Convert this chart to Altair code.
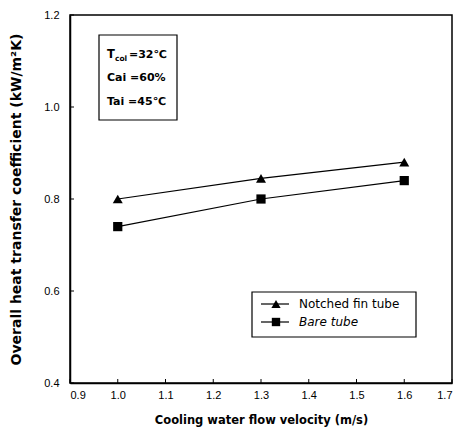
import altair as alt
import pandas as pd

velocity = [1.0, 1.3, 1.6]
notched = [0.80, 0.845, 0.88]
bare = [0.74, 0.80, 0.84]
series_names = ["Notched fin tube", "Bare tube"]
x_ticks = [0.9, 1.0, 1.1, 1.2, 1.3, 1.4, 1.5, 1.6, 1.7]
y_ticks = [0.4, 0.6, 0.8, 1.0, 1.2]

W, H = 382, 368
FONT = "Liberation Sans"
WIDE = "DejaVu Sans"

df = pd.DataFrame({
    "v": velocity * 2,
    "h": notched + bare,
    "series": [series_names[0]] * 3 + [series_names[1]] * 3,
})

xs = alt.Scale(domain=[0.9, 1.7], nice=False, zero=False)
ys = alt.Scale(domain=[0.4, 1.2], nice=False, zero=False)

base = alt.Chart(df)

lines = base.mark_line(color="black", strokeWidth=1.2).encode(
    x=alt.X("v:Q", scale=xs,
            axis=alt.Axis(title="Cooling water flow velocity (m/s)", values=x_ticks,
                          format=".1f", tickSize=0, labelPadding=6, grid=False,
                          titlePadding=14, titleFont=WIDE, titleFontSize=11.5)),
    y=alt.Y("h:Q", scale=ys,
            axis=alt.Axis(title="Overall heat transfer coefficient (kW/m²K)", values=y_ticks,
                          format=".1f", tickSize=0, labelPadding=11, grid=False,
                          titlePadding=20, titleFont=WIDE, titleFontSize=14)),
    detail="series:N",
)

points = base.mark_point(filled=True, color="black", opacity=1).encode(
    x=alt.X("v:Q", scale=xs),
    y=alt.Y("h:Q", scale=ys),
    shape=alt.Shape("series:N", scale=alt.Scale(domain=series_names,
                                                range=["triangle-up", "square"]),
                    legend=None),
    size=alt.Size("series:N", scale=alt.Scale(domain=series_names, range=[100, 85]),
                  legend=None),
)

xt = alt.Chart(pd.DataFrame({"t": x_ticks})).mark_rule(color="black", strokeWidth=1).encode(
    x=alt.X("t:Q", scale=xs), y=alt.value(H), y2=alt.value(H - 4))
yt = alt.Chart(pd.DataFrame({"t": y_ticks})).mark_rule(color="black", strokeWidth=1).encode(
    y=alt.Y("t:Q", scale=ys), x=alt.value(0), x2=alt.value(4))

# annotation box
abox = alt.Chart(pd.DataFrame({"a": [0]})).mark_rect(
    fill="white", stroke="black", strokeWidth=1.2).encode(
    x=alt.value(29), x2=alt.value(107), y=alt.value(20), y2=alt.value(105))


def txt(s, x, y, size=10, weight="bold", style="normal", font=WIDE):
    return alt.Chart(pd.DataFrame({"s": [s]})).mark_text(
        font=font, fontSize=size, fontWeight=weight, fontStyle=style, align="left",
        baseline="middle", color="black").encode(
        text="s:N", x=alt.value(x), y=alt.value(y))


ann = [
    txt("T", 37, 40, 11.5),
    txt("col", 45, 44, 7.5),
    txt("=32℃", 59, 40, 11),
    txt("Cai =60%", 37, 63, 11),
    txt("Tai =45℃", 37, 87, 11),
]

# legend
LX0, LX1, LY0, LY1 = 182, 346, 277, 322
lbox = alt.Chart(pd.DataFrame({"a": [0]})).mark_rect(
    fill="white", stroke="black", strokeWidth=1.2).encode(
    x=alt.value(LX0), x2=alt.value(LX1), y=alt.value(LY0), y2=alt.value(LY1))
leg = []
for i, (name, shp, sz, sty) in enumerate(zip(series_names, ["triangle-up", "square"],
                                              [85, 70], ["normal", "italic"])):
    yy = 289 + i * 18
    leg.append(alt.Chart(pd.DataFrame({"a": [0]})).mark_rule(color="black", strokeWidth=1.2).encode(
        x=alt.value(191), x2=alt.value(219), y=alt.value(yy)))
    leg.append(alt.Chart(pd.DataFrame({"a": [0]})).mark_point(
        shape=shp, filled=True, color="black", opacity=1, size=sz).encode(
        x=alt.value(206), y=alt.value(yy)))
    leg.append(txt(name, 229, yy, 12, "normal", sty))

chart = alt.layer(lines, points, xt, yt, abox, *ann, lbox, *leg).properties(
    width=W, height=H,
    padding={"left": 62, "top": 7, "right": 8, "bottom": 49},
    autosize=alt.AutoSizeParams(type="none"),
).configure_view(stroke="black", strokeWidth=1.5).configure_axis(
    domainColor="black", domainWidth=1.5, labelColor="black", titleColor="black",
    labelFont=FONT, labelFontSize=11, titleFontWeight="bold",
)

chart.save("out.html", embed_options={"renderer": "svg", "actions": False})
